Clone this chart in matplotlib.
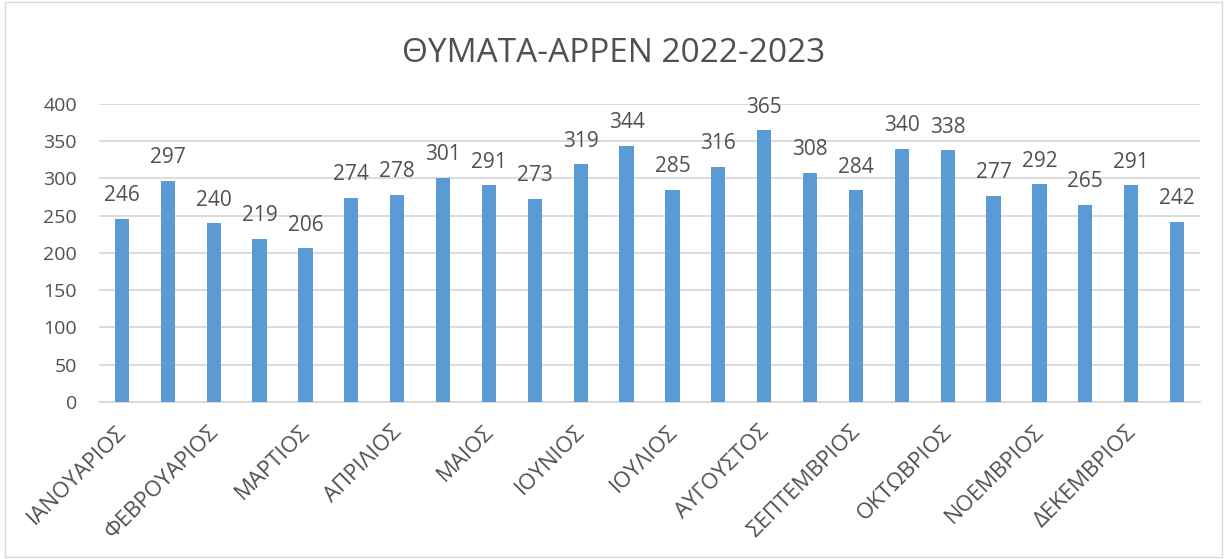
import numpy as np
import matplotlib.pyplot as plt
import matplotlib.transforms as mtransforms
from matplotlib.patches import Rectangle

plt.rcParams['font.family'] = ['Open Sans', 'DejaVu Sans']

# data: two bars per month label
values = [246, 297, 240, 219, 206, 274, 278, 301, 291, 273, 319, 344,
          285, 316, 365, 308, 284, 340, 338, 277, 292, 265, 291, 242]
months = ['ΙΑΝΟΥΑΡΙΟΣ', 'ΦΕΒΡΟΥΑΡΙΟΣ', 'ΜΑΡΤΙΟΣ', 'ΑΠΡΙΛΙΟΣ', 'ΜΑΙΟΣ', 'ΙΟΥΝΙΟΣ',
          'ΙΟΥΛΙΟΣ', 'ΑΥΓΟΥΣΤΟΣ', 'ΣΕΠΤΕΜΒΡΙΟΣ', 'ΟΚΤΩΒΡΙΟΣ', 'ΝΟΕΜΒΡΙΟΣ', 'ΔΕΚΕΜΒΡΙΟΣ']
yticks = [0, 50, 100, 150, 200, 250, 300, 350, 400]
title = 'ΘΥΜΑΤΑ-ΑΡΡΕΝ 2022-2023'

txt = '#505050'
bar_col = '#5B9BD5'
grid_col = '#D9D9D9'

fig = plt.figure(figsize=(12.27, 5.59), dpi=100)
ax = fig.add_axes([0.0807, 0.281, 0.8973, 0.533])

x = np.arange(len(values))
ax.bar(x, values, width=0.31, color=bar_col, zorder=3)
for xi, v in zip(x, values):
    ax.annotate(str(v), (xi, v), xytext=(0, 9), textcoords='offset points',
                ha='center', va='bottom', fontsize=15, color=txt)

ax.set_xlim(-0.5, len(values) - 0.5)
ax.set_ylim(0, 400)
ax.set_yticks(yticks)
ax.set_yticklabels([str(t) for t in yticks], fontsize=14, color=txt)
ax.yaxis.grid(True, color=grid_col, linewidth=1.3, zorder=0)
ax.tick_params(axis='y', length=0, pad=16)

ax.set_xticks(x[::2])
ax.set_xticklabels(months, rotation=45, ha='right', va='top', rotation_mode='anchor',
                   fontsize=16, color=txt)
ax.tick_params(axis='x', length=0, pad=14)
shift = mtransforms.ScaledTranslation(-0.06, 0, fig.dpi_scale_trans)
for lab in ax.get_xticklabels():
    lab.set_transform(lab.get_transform() + shift)

for s in ['top', 'right', 'left']:
    ax.spines[s].set_visible(False)
ax.spines['bottom'].set_color(grid_col)
ax.spines['bottom'].set_linewidth(1.3)

fig.text(0.5, 0.905, title, ha='center', va='center', fontsize=24, color=txt)

fig.patches.append(Rectangle((0.004, 0.004), 0.992, 0.992, transform=fig.transFigure,
                             fill=False, edgecolor='#D9D9D9', linewidth=1))

fig.savefig('out.png', dpi=100)
